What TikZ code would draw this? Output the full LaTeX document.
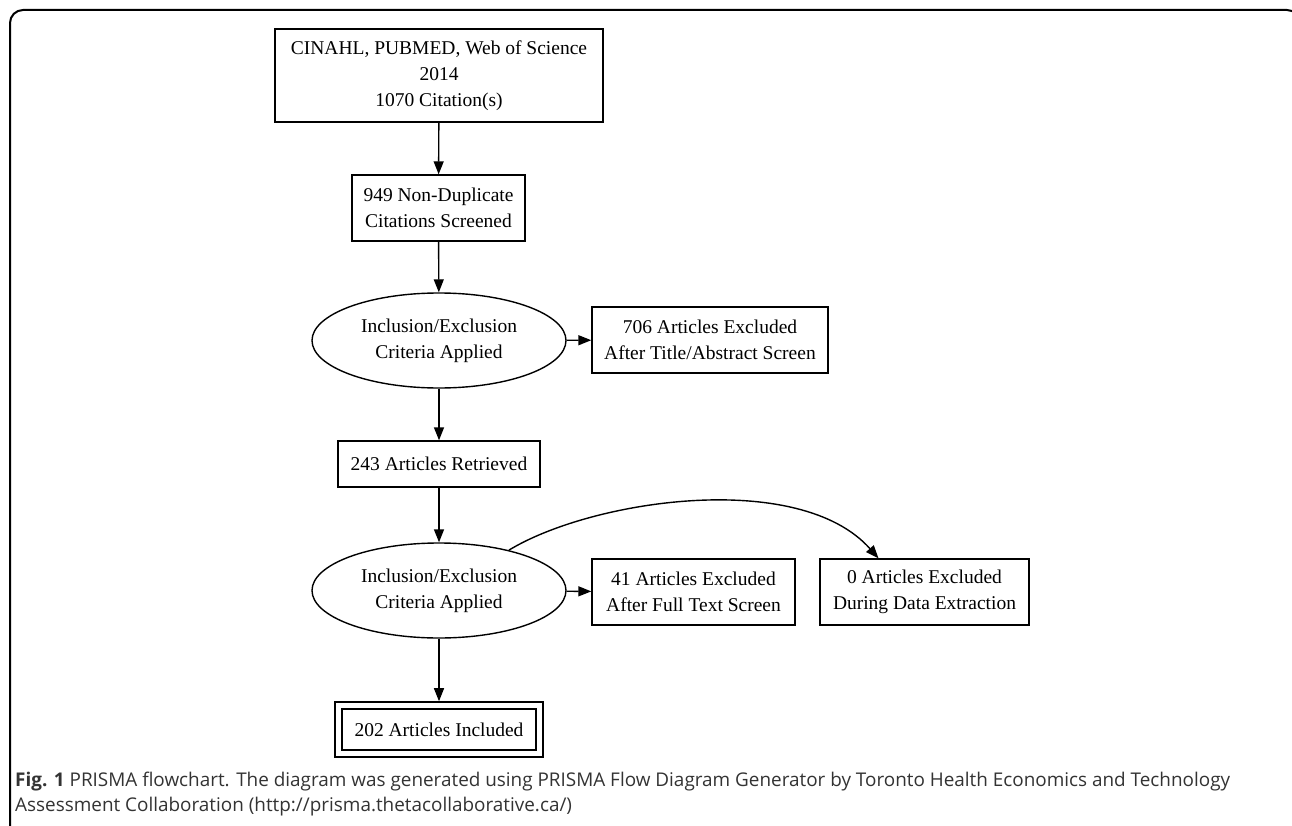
\documentclass[tikz,border=0pt]{standalone}
\usepackage{fontspec}
\setmainfont{Liberation Serif}
\newfontfamily\capfont{Open Sans}
\usetikzlibrary{arrows.meta,shapes.geometric}

\begin{document}
\begin{tikzpicture}[x=1pt, y=-1pt,
	box/.style={draw, line width=1.4pt, inner sep=0pt, align=center, font=\fontsize{19.5}{26}\selectfont},
	crit/.style={box, ellipse, minimum width=254pt, minimum height=95pt},
	flow/.style={line width=1.4pt, -{Triangle[length=13pt, width=10pt]}},
	captext/.style={anchor=base west, font=\capfont\fontsize{18.9}{25}\selectfont, text=black!80, inner sep=0pt}]
	\useasboundingbox (0, 0) rectangle (1292, 826);
	% frame round the figure
	\draw[line width=2pt, rounded corners=13pt] (10, 10) rectangle (1300, 850);

	\node[box, minimum width=328pt, minimum height=93pt] (src) at (439, 75.5) {CINAHL, PUBMED, Web of Science\\2014\\1070 Citation(s)};
	\node[box, minimum width=173pt, minimum height=66pt] (dedup) at (438.5, 208) {949 Non-Duplicate\\Citations Screened};
	\node[crit] (crit1) at (439, 340.5) {Inclusion/Exclusion\\Criteria Applied};
	\node[box, minimum width=236pt, minimum height=66pt] (excl1) at (710, 340) {706 Articles Excluded\\After Title/Abstract Screen};
	\node[box, minimum width=202pt, minimum height=46pt] (retr) at (439, 464) {243 Articles Retrieved};
	\node[crit] (crit2) at (439, 590.5) {Inclusion/Exclusion\\Criteria Applied};
	\node[box, minimum width=203pt, minimum height=66pt] (excl2) at (693.5, 592) {41 Articles Excluded\\After Full Text Screen};
	\node[box, minimum width=209pt, minimum height=66pt] (excl3) at (924.5, 592) {0 Articles Excluded\\During Data Extraction};
	\node[box, double, double distance=5.6pt, minimum width=201pt, minimum height=48pt] (incl) at (439, 729.5) {202 Articles Included};

	\draw[flow] (src) -- (dedup);
	\draw[flow] (dedup) -- (crit1);
	\draw[flow] (crit1) -- (excl1);
	\draw[flow] (crit1) -- (retr);
	\draw[flow] (retr) -- (crit2);
	\draw[flow] (crit2) -- (excl2);
	\draw[flow] (crit2.30) .. controls +(84, -51) and +(-79, -89) .. ([xshift=-46pt]excl3.north);
	\draw[flow, shorten >=3.6pt] (crit2) -- (incl);

	% caption
	\node[captext] (cap1) at (15, 786) {\textbf{Fig. 1} PRISMA flowchart. The diagram was generated using PRISMA Flow Diagram Generator by Toronto Health Economics and Technology};
	\node[captext] (cap2) at (15, 811) {Assessment Collaboration (http://prisma.thetacollaborative.ca/)};
\end{tikzpicture}
\end{document}
